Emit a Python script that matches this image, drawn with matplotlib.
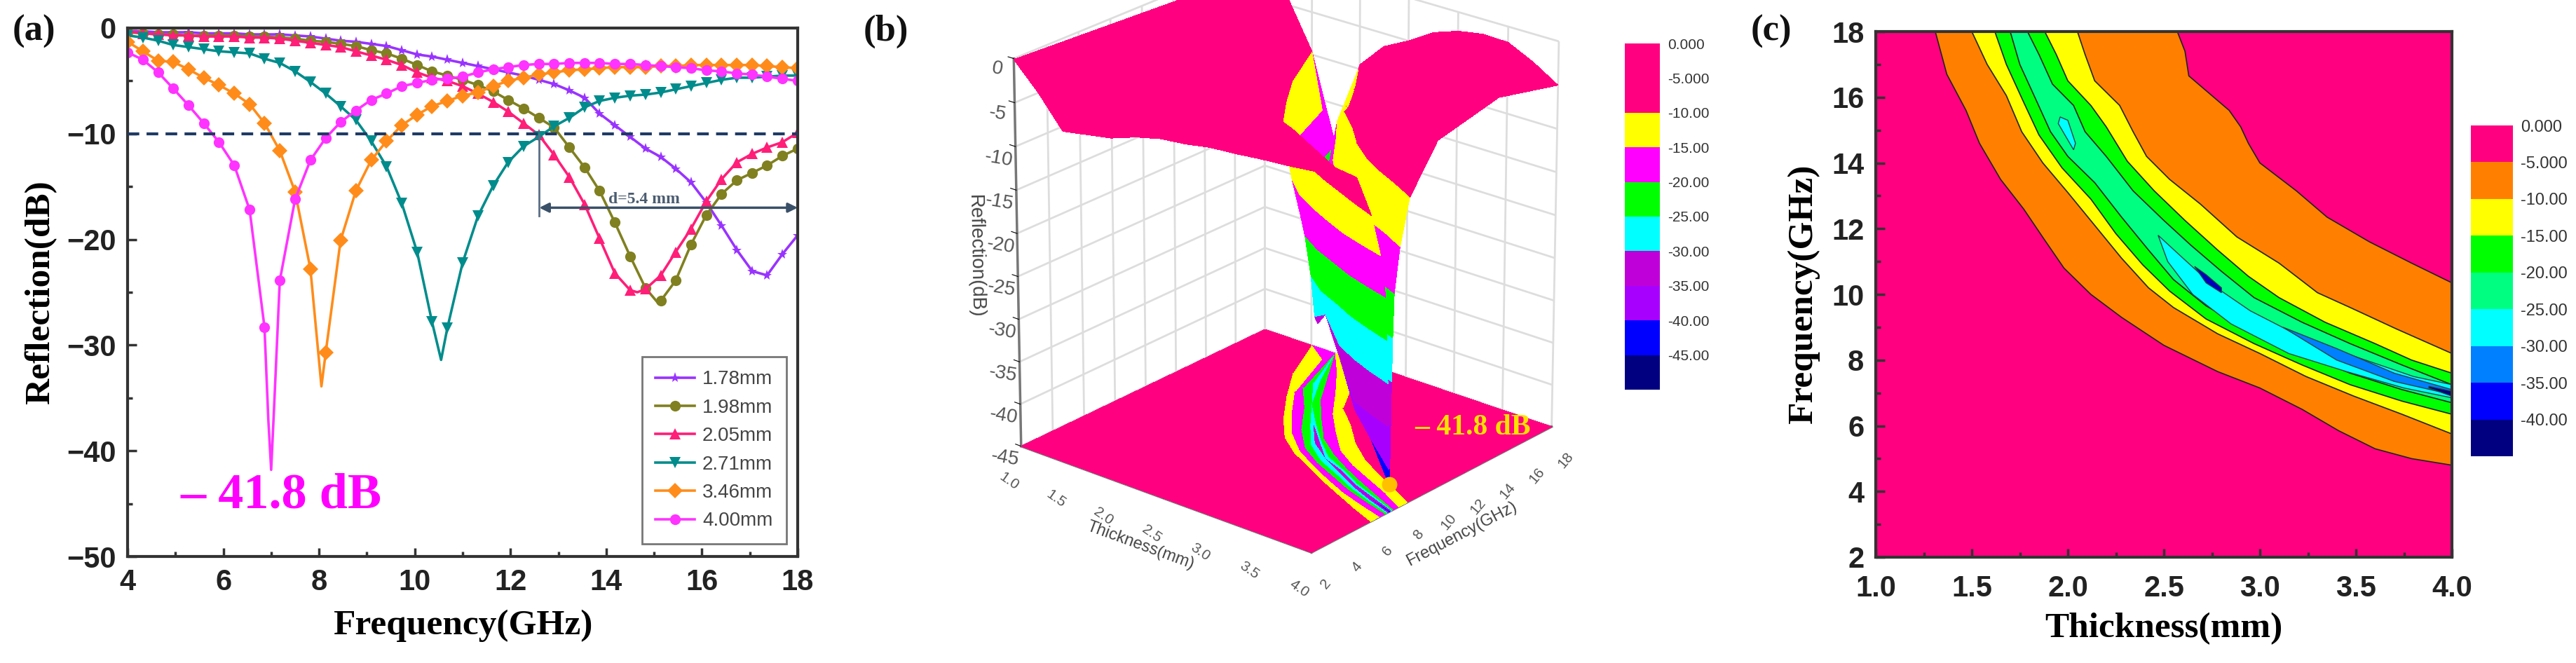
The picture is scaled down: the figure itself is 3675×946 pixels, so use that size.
import numpy as np
import matplotlib
matplotlib.use('Agg')
import matplotlib.pyplot as plt
from mpl_toolkits.mplot3d import Axes3D

W, H = 3675, 946
SERIF = 'Liberation Serif'
SANS = 'Liberation Sans'

# ---------------- panel (a) ----------------
freq = [4.0, 4.32, 4.64, 4.95, 5.27, 5.59, 5.91, 6.23, 6.55, 6.86, 7.18, 7.5, 7.82, 8.14, 8.45,
        8.77, 9.09, 9.41, 9.73, 10.05, 10.36, 10.68, 11.0, 11.32, 11.64, 11.95, 12.27, 12.59, 12.91, 13.23,
        13.55, 13.86, 14.18, 14.5, 14.82, 15.14, 15.45, 15.77, 16.09, 16.41, 16.73, 17.05, 17.36, 17.68, 18.0]
rl_178 = [-0.3, -0.3, -0.4, -0.4, -0.4, -0.5, -0.5, -0.5, -0.6, -0.6, -0.6, -0.7, -0.8, -1.0, -1.2,
          -1.3, -1.5, -1.7, -2.1, -2.5, -2.7, -3.0, -3.3, -3.6, -3.9, -4.2, -4.5, -4.9, -5.3, -5.9,
          -6.6, -8.1, -9.2, -10.3, -11.4, -12.2, -13.3, -14.6, -16.5, -18.7, -21.0, -23.0, -23.4, -21.4, -19.6]
rl_198 = [-0.4, -0.5, -0.6, -0.6, -0.7, -0.7, -0.7, -0.7, -0.8, -0.8, -0.9, -1.0, -1.2, -1.3, -1.5,
          -1.7, -2.1, -2.4, -2.9, -3.5, -4.1, -4.5, -4.9, -5.4, -6.0, -6.8, -7.6, -8.5, -9.4, -11.3,
          -13.2, -15.4, -18.4, -21.6, -24.6, -25.8, -23.9, -20.5, -17.7, -15.7, -14.4, -13.7, -13.0, -12.1, -11.4]
rl_205 = [-0.3, -0.5, -0.6, -0.7, -0.7, -0.8, -0.8, -0.8, -0.9, -0.9, -1.0, -1.2, -1.4, -1.6, -1.8,
          -2.2, -2.6, -3.0, -3.5, -4.2, -4.7, -5.0, -5.5, -6.2, -7.0, -7.9, -9.0, -10.1, -12.0, -14.1,
          -16.7, -19.9, -23.2, -24.8, -24.7, -23.4, -21.2, -19.0, -16.4, -14.3, -12.7, -11.9, -11.3, -10.8, -9.9]
rl_271 = [-0.7, -0.9, -1.2, -1.6, -1.8, -2.0, -2.2, -2.3, -2.4, -2.9, -3.3, -4.1, -5.1, -6.2, -7.4,
          -8.7, -10.7, -13.1, -16.6, -21.2, -27.8, -28.4, -22.2, -17.8, -14.9, -12.7, -11.2, -10.3, -9.3, -8.5,
          -7.5, -6.9, -6.6, -6.4, -6.3, -6.1, -5.8, -5.5, -5.2, -4.9, -4.7, -4.7, -4.6, -4.5, -4.5]
rl_346 = [-1.3, -2.2, -3.1, -3.2, -3.9, -4.7, -5.4, -6.2, -7.2, -9.0, -11.6, -15.5, -22.8, -30.7, -20.1,
          -15.4, -12.5, -10.7, -9.2, -8.2, -7.4, -6.9, -6.4, -6.1, -5.5, -5.0, -4.7, -4.4, -4.2, -4.0,
          -3.9, -3.8, -3.7, -3.7, -3.7, -3.6, -3.6, -3.5, -3.5, -3.5, -3.5, -3.5, -3.6, -3.7, -3.8]
rl_400 = [-2.3, -3.0, -4.2, -5.7, -7.3, -9.0, -10.8, -13.0, -17.2, -28.3, -23.9, -16.2, -12.5, -10.4, -8.9,
          -7.8, -6.8, -6.2, -5.5, -5.2, -4.9, -4.8, -4.6, -4.2, -3.9, -3.7, -3.5, -3.4, -3.4, -3.3,
          -3.3, -3.3, -3.4, -3.4, -3.5, -3.6, -3.7, -3.8, -4.0, -4.1, -4.3, -4.4, -4.6, -4.8, -5.0]
series_labels = ['1.78mm', '1.98mm', '2.05mm', '2.71mm', '3.46mm', '4.00mm']
# sharp minima that fall between the markers
tip_x = [[], [15.08], [14.65], [10.55], [8.05], [6.94, 7.0, 7.06]]
tip_y = [[], [-26.0], [-25.0], [-31.4], [-33.9], [-37.0, -41.8, -36.0]]

# ---------------- panel (b) ----------------
# per thickness: frequency where the curve crosses -5, -10, -15 ... dB below and above the minimum
b_thick = [1.0, 1.25, 1.5, 1.75, 2.0, 2.25, 2.5, 2.75, 3.0, 3.25, 3.5, 3.75, 4.0]
b_lo = [[], [], [15.2], [12.9, 15.1, 17.1],
        [10.7, 13.1, 13.65, 14.2, 14.9],
        [9.4, 11.3, 11.85, 12.7],
        [8.45, 9.8, 10.3, 10.9, 11.5],
        [7.7, 8.85, 9.2, 9.55, 9.95, 10.2],
        [7.15, 8.2, 8.45, 8.75, 9.0],
        [6.45, 7.5, 7.8, 8.15, 8.4, 8.6],
        [5.75, 6.9, 7.2, 7.55, 7.75, 7.9, 7.98],
        [5.05, 6.3, 6.75, 7.1, 7.25, 7.35, 7.42],
        [4.8, 5.75, 6.35, 6.7, 6.8, 6.88, 6.93, 6.97]]
b_up = [[], [], [], [],
        [None, 17.9, 16.5, 15.9, 15.4],
        [None, 16.0, 14.8, 13.8],
        [None, 13.7, 13.0, 12.25, 11.85],
        [15.9, 12.6, 11.6, 10.8, 10.6, 10.5],
        [14.0, 11.3, 10.3, 9.85, 9.5],
        [12.8, 10.3, 9.5, 9.1, 8.9, 8.8],
        [11.9, 9.55, 8.9, 8.45, 8.2, 8.1, 8.03],
        [11.0, 8.9, 8.3, 7.85, 7.7, 7.6, 7.5],
        [10.0, 8.2, 7.6, 7.25, 7.17, 7.12, 7.08, 7.04]]
b_min_f = [18, 18, 18, 18, 15.1, 13.2, 11.7, 10.4, 9.3, 8.7, 8.0, 7.45, 7.0]
b_min_rl = [-1.6, -4.2, -9.6, -19.8, -26.0, -24.0, -26.0, -31.0, -28.0, -32.0, -36.0, -38.0, -41.8]
b_start_rl = [-0.1, -3.0, -6.5, -6.0, -5.5, -4.5, -3.8, -3.5, -3.0, -2.8, -2.5, -2.3, -2.0]
b_end_rl = [-1.6, -4.2, -9.6, -19.8, -9.5, -6.5, -5.0, -3.2, -2.2, -1.7, -1.8, -3.2, -5.0]
b_arch_f = [18, 18, 18, 18, 18, 18, 18, 17, 16, 15, 15, 15, 14]
b_arch_rl = [-1.6, -4.2, -9.6, -19.8, -9.5, -6.5, -5.0, -4.0, -3.2, -3.0, -2.6, -2.7, -3.3]
b_levels = [-5, -10, -15, -20, -25, -30, -35, -40]
# colours from the top band (0 to -5) to the bottom one
b_colors = ['#FF0080', '#FF0080', '#FFFF00', '#FF00FF', '#00FF00', '#00FFFF', '#C000D8', '#A800FF', '#0000FF', '#000080']
b_bar_labels = ['0.000', '-5.000', '-10.00', '-15.00', '-20.00', '-25.00', '-30.00', '-35.00', '-40.00', '-45.00']

# ---------------- panel (c), contour edges read as thickness / frequency ----------------
c5_lo_t = [1.31, 1.37, 1.47, 1.54, 1.65, 1.77, 1.88, 1.98, 2.12, 2.28, 2.5, 2.78, 3.0, 3.22, 3.41, 3.6, 3.79, 4.0]
c5_lo_f = [18, 16.7, 15.6, 14.6, 13.5, 12.6, 11.65, 10.8, 10.0, 9.3, 8.45, 7.65, 7.15, 6.5, 5.85, 5.3, 5.0, 4.8]
c5_up_t = [2.57, 2.61, 2.63, 2.72, 2.84, 2.9, 2.94, 3.0, 3.19, 3.35, 3.57, 3.79, 4.0]
c5_up_f = [18, 17.4, 16.65, 16.2, 15.6, 15.1, 14.6, 14.0, 13.15, 12.35, 11.6, 10.95, 10.35]
c10_lo_t = [1.5, 1.58, 1.68, 1.76, 1.87, 2.0, 2.14, 2.28, 2.42, 2.55, 2.78, 3.0, 3.24, 3.49, 3.74, 4.0]
c10_lo_f = [18, 17, 16.05, 14.95, 14, 13.1, 12.1, 11.1, 10.2, 9.6, 8.8, 8.2, 7.5, 6.9, 6.35, 5.75]
c10_up_t = [2.05, 2.09, 2.14, 2.27, 2.34, 2.41, 2.53, 2.69, 2.88, 3.1, 3.3, 3.47, 3.71, 4.0]
c10_up_f = [18, 17.3, 16.5, 15.75, 14.95, 14.2, 13.5, 12.75, 11.75, 10.95, 10.05, 9.6, 8.95, 8.2]
c15_lo_t = [1.62, 1.68, 1.77, 1.85, 1.97, 2.12, 2.25, 2.39, 2.53, 2.72, 2.97, 3.22, 3.47, 3.74, 4.0]
c15_lo_f = [18, 17, 15.85, 14.85, 13.85, 12.9, 11.85, 10.9, 10.1, 9.25, 8.5, 7.85, 7.25, 6.75, 6.35]
c15_up_t = [1.88, 1.94, 2.0, 2.12, 2.2, 2.31, 2.45, 2.61, 2.78, 2.94, 3.1, 3.34, 3.6, 3.79, 4.0]
c15_up_f = [18, 17.3, 16.5, 15.75, 15.1, 14.05, 13.15, 12.25, 11.35, 10.55, 9.9, 9.15, 8.5, 8.0, 7.6]
c20_lo_t = [1.7, 1.75, 1.84, 1.91, 2.0, 2.14, 2.28, 2.42, 2.55, 2.72, 2.97, 3.22, 3.47, 3.74, 4.0]
c20_lo_f = [18, 17, 15.85, 14.95, 14.2, 13.4, 12.35, 11.35, 10.45, 9.65, 8.8, 8.2, 7.6, 7.1, 6.7]
c20_up_t = [1.79, 1.85, 1.92, 2.03, 2.09, 2.2, 2.34, 2.5, 2.64, 2.8, 2.97, 3.22, 3.47, 3.74, 4.0]
c20_up_f = [18, 17.3, 16.4, 15.75, 14.95, 14.2, 13.15, 12.25, 11.5, 10.7, 9.9, 9.15, 8.5, 7.85, 7.25]
# closed islands around the minima
c25_a_t = [1.96, 2.0, 2.04, 2.03, 1.98, 1.95, 1.96]
c25_a_f = [15.4, 15.3, 14.6, 14.4, 14.9, 15.2, 15.4]
c25_b_t = [2.47, 2.6, 2.75, 2.95, 3.2, 3.5, 3.8, 4.0, 4.0, 3.75, 3.45, 3.15, 2.85, 2.65, 2.52, 2.47]
c25_b_f = [11.8, 11.1, 10.3, 9.5, 8.75, 8.1, 7.5, 7.25, 6.85, 7.15, 7.65, 8.2, 9.1, 10.0, 11.0, 11.8]
c30_t = [3.12, 3.4, 3.7, 4.0, 4.0, 3.7, 3.4, 3.12]
c30_f = [9.0, 8.35, 7.6, 7.1, 6.95, 7.35, 8.0, 9.0]
c35_t = [2.66, 2.72, 2.8, 2.8, 2.72, 2.66]
c35_f = [10.85, 10.6, 10.2, 10.05, 10.35, 10.85]
c40_t = [3.88, 4.0, 4.0, 3.88]
c40_f = [7.2, 7.05, 6.9, 7.15]
c_colors = ['#FF0080', '#FF8000', '#FFFF00', '#00FF00', '#00FF80', '#00FFFF', '#0080FF', '#0000FF', '#000080']
c_bar_labels = ['0.000', '-5.000', '-10.00', '-15.00', '-20.00', '-25.00', '-30.00', '-35.00', '-40.00']


def px_axes(x0, y0, x1, y1, **kw):
    return fig.add_axes([x0 / W, 1 - y1 / H, (x1 - x0) / W, (y1 - y0) / H], **kw)


def style_2d(ax):
    for s in ax.spines.values():
        s.set_linewidth(3)
        s.set_color('#333333')
    ax.tick_params(which='major', direction='in', length=9, width=2.5, color='#333333', pad=12)
    ax.tick_params(which='minor', direction='in', length=5, width=2.5, color='#333333')
    for t in ax.get_xticklabels() + ax.get_yticklabels():
        t.set_family(SANS)
        t.set_weight('bold')
        t.set_fontsize(30)
        t.set_color('#222222')


def bar_legend(x0, y0, x1, y1, colors, labels, size):
    ax = px_axes(x0, y0, x1, y1)
    n = len(colors)
    for i in range(n):
        ax.bar(0, -1, bottom=-i, width=1, color=colors[i])
    ax.set_xlim(-0.5, 0.5)
    ax.set_ylim(-n, 0)
    ax.set_xticks([])
    ax.yaxis.tick_right()
    ax.set_yticks([-i for i in range(n)])
    ax.set_yticklabels(labels, fontsize=size, family=SANS, color='#333333')
    ax.tick_params(axis='y', length=0, pad=8)
    for s in ax.spines.values():
        s.set_visible(False)


def surface_columns():
    # one row per thickness, columns run along frequency through every crossing
    n = len(b_levels)
    ff, zz = [], []
    for r in range(len(b_thick)):
        f_row = [2]
        z_row = [b_start_rl[r]]
        for j in range(n):
            if j < len(b_lo[r]):
                f_row.append(b_lo[r][j])
                z_row.append(b_levels[j])
            else:
                f_row.append(b_min_f[r])
                z_row.append(b_min_rl[r])
        f_row.append(b_min_f[r])
        z_row.append(b_min_rl[r])
        for j in range(n - 1, -1, -1):
            if j < len(b_up[r]):
                if b_up[r][j] is None:
                    f_row.append(18)
                    z_row.append(b_end_rl[r])
                else:
                    f_row.append(b_up[r][j])
                    z_row.append(b_levels[j])
            else:
                f_row.append(b_min_f[r])
                z_row.append(b_min_rl[r])
        f_row += [b_arch_f[r], 18]
        z_row += [b_arch_rl[r], b_end_rl[r]]
        ff.append(f_row)
        zz.append(z_row)
    return np.array(ff, dtype=float), np.array(zz, dtype=float)


fig = plt.figure(figsize=(W / 100, H / 100), dpi=100)

# ------------------------------ (a) ------------------------------
ax = px_axes(182, 40, 1138, 794)
series = [rl_178, rl_198, rl_205, rl_271, rl_346, rl_400]
colors = ['#9933FF', '#808020', '#FF1E78', '#008C8C', '#FF8C1A', '#FF33FF']
markers = ['*', 'o', '^', 'v', 'D', 'o']
for i in range(6):
    xs = np.r_[freq, tip_x[i]]
    ys = np.r_[series[i], tip_y[i]]
    order = np.argsort(xs, kind='stable')
    marks = [int(k) for k in np.where(order < len(freq))[0]]
    ax.plot(xs[order], ys[order], color=colors[i], lw=2.6, marker=markers[i], ms=11,
            markevery=marks, mew=0, label=series_labels[i])
ax.axhline(-10, color='#1F3A64', lw=3, ls=(0, (4, 2.5)), zorder=5)
ax.plot([12.6, 12.6], [-10, -17.8], color='#5A6E85', lw=2)
ax.annotate('', xy=(18, -17), xytext=(12.6, -17),
            arrowprops=dict(arrowstyle='<|-|>', color='#3A5068', lw=2.5, mutation_scale=20, shrinkA=0, shrinkB=0))
ax.text(14.05, -16.9, 'd=5.4 mm', color='#4A5C70', fontsize=17, family=SERIF, weight='bold', va='bottom')
ax.text(5.1, -44.2, '– 41.8 dB', color='#FF00FF', fontsize=52, family=SERIF, weight='bold', va='center')
ax.set_xlim(4, 18)
ax.set_ylim(-50, 0)
ax.set_xticks(range(4, 19, 2))
ax.set_xticks(range(5, 19, 2), minor=True)
ax.set_yticks(range(-50, 1, 10))
ax.set_yticks(range(-45, 0, 10), minor=True)
style_2d(ax)
ax.set_xlabel('Frequency(GHz)', fontsize=37, family=SERIF, weight='bold', labelpad=14)
ax.set_ylabel('Reflection(dB)', fontsize=37, family=SERIF, weight='bold', labelpad=10)
leg = ax.legend(loc='lower right', bbox_to_anchor=(0.983, 0.024), prop={'family': SANS, 'size': 20},
                fancybox=False, edgecolor='#777777', framealpha=1, labelspacing=0.52, handlelength=2.0,
                borderpad=0.7, handletextpad=0.4, borderaxespad=0)
leg.get_frame().set_linewidth(2)
for t in leg.get_texts():
    t.set_color('#444444')

# ------------------------------ (b) ------------------------------
ax3 = fig.add_axes([1323 / W, 0.085, 1000 / W, 1.06], projection='3d', computed_zorder=False)
FF, ZZ = surface_columns()
TT = np.tile(np.array(b_thick)[:, None], (1, FF.shape[1]))
# colour of each facet follows the band of its column
band = [0, 1, 2, 3, 4, 5, 6, 7, 8, 8, 7, 6, 5, 4, 3, 2, 1, 0, 0, 0]
col_colors = [matplotlib.colors.to_rgba(b_colors[b]) for b in band]
fc = np.array([col_colors] * FF.shape[0])
ax3.plot_surface(TT, FF, np.full_like(ZZ, -45.0), facecolors=fc, rstride=1, cstride=1, shade=False,
                 linewidth=0, antialiased=False, zorder=1)
ax3.plot_surface(TT, FF, ZZ, facecolors=fc, rstride=1, cstride=1, shade=False,
                 linewidth=0, antialiased=False, zorder=2)
ax3.scatter([4.0], [7.0], [-41.8], color='#FFC000', s=220, depthshade=False, zorder=4)
ax3.text(3.5, 12.0, -42.5, '– 41.8 dB', color='#FFE000', fontsize=30, family=SERIF, weight='bold', zorder=5)
ax3.set_xlim(1, 4)
ax3.set_ylim(2, 18)
ax3.set_zlim(-45, 0)
ax3.view_init(elev=23, azim=-50)
ax3.set_proj_type('persp', focal_length=1.6)
ax3.set_box_aspect((1, 1, 1.1), zoom=0.947)
for a in (ax3.xaxis, ax3.yaxis, ax3.zaxis):
    a.set_pane_color((1, 1, 1, 0))
    a.pane.set_edgecolor('#AAAAAA')
    a._axinfo['grid'].update(color='#DDDDDD', linewidth=2)
    a._axinfo['tick'].update(inward_factor=0.0, outward_factor=0.25)
    a.line.set_color('#777777')
    a.line.set_linewidth(2.5)
ax3.zaxis._axinfo['juggled'] = (1, 2, 0)
ax3.set_xticks([1.0, 1.5, 2.0, 2.5, 3.0, 3.5, 4.0])
ax3.set_xticklabels(['1.0', '1.5', '2.0', '2.5', '3.0', '3.5', '4.0'], rotation=-35, fontsize=15,
                    family=SANS, color='#555555')
ax3.set_yticks(range(2, 19, 2))
ax3.set_yticklabels([str(v) for v in range(2, 19, 2)], rotation=50, fontsize=15, family=SANS, color='#555555')
ax3.set_zticks(range(-45, 1, 5))
ax3.set_zticklabels([str(v) for v in range(-45, 1, 5)], fontsize=20, family=SANS, color='#555555', rotation=-10)
ax3.tick_params(axis='x', pad=10)
ax3.tick_params(axis='y', pad=10)
ax3.set_xlabel('Thickness(mm)', fontsize=17, family=SANS, color='#444444', rotation=-35, labelpad=14)
ax3.set_ylabel('Frequency(GHz)', fontsize=17, family=SANS, color='#444444', rotation=50, labelpad=14)
ax3.set_zlabel('Reflection(dB)', fontsize=20, family=SANS, color='#444444', rotation=90, labelpad=8)
bar_legend(2318, 62, 2368, 556, b_colors, b_bar_labels, 15)

# ------------------------------ (c) ------------------------------
axc = px_axes(2676, 45, 3498, 795)
axc.set_facecolor('#FF0080')
bands = [(c5_lo_t, c5_lo_f, c5_up_t, c5_up_f, '#FF8000'),
         (c10_lo_t, c10_lo_f, c10_up_t, c10_up_f, '#FFFF00'),
         (c15_lo_t, c15_lo_f, c15_up_t, c15_up_f, '#00FF00'),
         (c20_lo_t, c20_lo_f, c20_up_t, c20_up_f, '#00FF80')]
for lo_t, lo_f, up_t, up_f, col in bands:
    axc.fill(lo_t + up_t[::-1], lo_f + up_f[::-1], facecolor=col, edgecolor='#222222', lw=1.2)
for t, f, col in [(c25_a_t, c25_a_f, '#00FFFF'), (c25_b_t, c25_b_f, '#00FFFF'), (c30_t, c30_f, '#0080FF'),
                  (c35_t, c35_f, '#0000C0'), (c40_t, c40_f, '#000080')]:
    axc.fill(t, f, facecolor=col, edgecolor='#224444', lw=1.0)
axc.set_xlim(1, 4)
axc.set_ylim(2, 18)
axc.set_xticks([1.0, 1.5, 2.0, 2.5, 3.0, 3.5, 4.0])
axc.set_xticks([1.25, 1.75, 2.25, 2.75, 3.25, 3.75], minor=True)
axc.set_yticks(range(2, 19, 2))
axc.set_yticks(range(3, 18, 2), minor=True)
style_2d(axc)
axc.tick_params(axis='x', which='major', pad=18)
axc.set_xlabel('Thickness(mm)', fontsize=37, family=SERIF, weight='bold', labelpad=10)
axc.set_ylabel('Frequency(GHz)', fontsize=37, family=SERIF, weight='bold', labelpad=12)
bar_legend(3525, 179, 3585, 651, c_colors, c_bar_labels, 17)

# panel letters
for x, label in [(18, '(a)'), (1232, '(b)'), (2498, '(c)')]:
    fig.text(x / W, 1 - 45 / H, label, fontsize=38, family=SERIF, weight='bold', va='center', color='#111111')

fig.savefig('out.png', dpi=100)
